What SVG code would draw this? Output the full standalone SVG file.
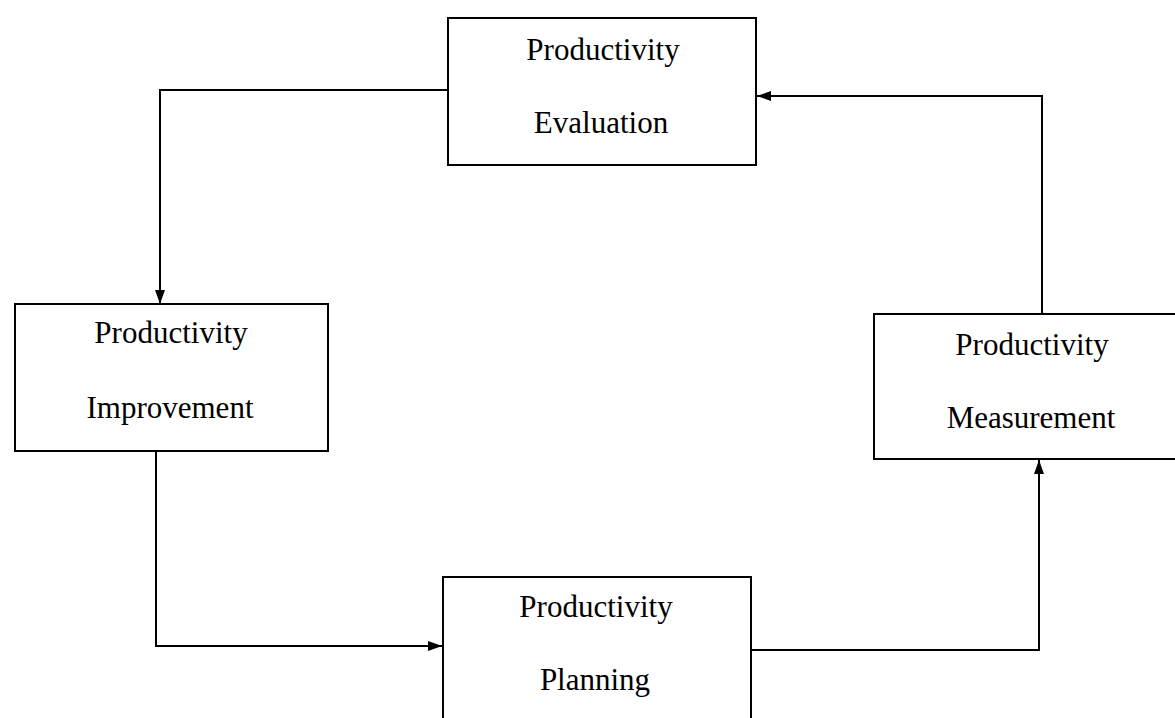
<svg xmlns="http://www.w3.org/2000/svg" width="1175" height="718" viewBox="0 0 1175 718">
  <style>
    .box { fill: #ffffff; stroke: #000000; stroke-width: 2; }
    .lbl { font-family: "Liberation Serif", "Times New Roman", serif; font-size: 31px; fill: #000000; text-anchor: middle; }
    .conn { fill: none; stroke: #000000; stroke-width: 2; marker-end: url(#arrow); }
  </style>
  <defs>
    <marker id="arrow" viewBox="0 0 14 10" refX="14" refY="5" markerWidth="14" markerHeight="10" markerUnits="userSpaceOnUse" orient="auto">
      <path d="M0,0 L14,5 L0,10 Z" fill="#000000"/>
    </marker>
  </defs>
  <rect width="1175" height="718" fill="#ffffff"/>

  <g id="connectors">
    <path class="conn" d="M448,90 H160 V304"/>
    <path class="conn" d="M156,451 V646 H442"/>
    <path class="conn" d="M751,650 H1039 V460"/>
    <path class="conn" d="M1042,314 V96 H757"/>
  </g>

  <g id="evaluation">
    <rect class="box" x="448" y="18" width="308" height="147"/>
    <text class="lbl" x="603" y="60">Productivity</text>
    <text class="lbl" x="601" y="133">Evaluation</text>
  </g>

  <g id="improvement">
    <rect class="box" x="15" y="304" width="313" height="147"/>
    <text class="lbl" x="171" y="343">Productivity</text>
    <text class="lbl" x="170" y="418">Improvement</text>
  </g>

  <g id="planning">
    <rect class="box" x="443" y="577" width="308" height="150"/>
    <text class="lbl" x="596" y="617">Productivity</text>
    <text class="lbl" x="595" y="690">Planning</text>
  </g>

  <g id="measurement">
    <rect class="box" x="874" y="314" width="314" height="145"/>
    <text class="lbl" x="1032" y="355">Productivity</text>
    <text class="lbl" x="1031" y="428">Measurement</text>
  </g>
</svg>
